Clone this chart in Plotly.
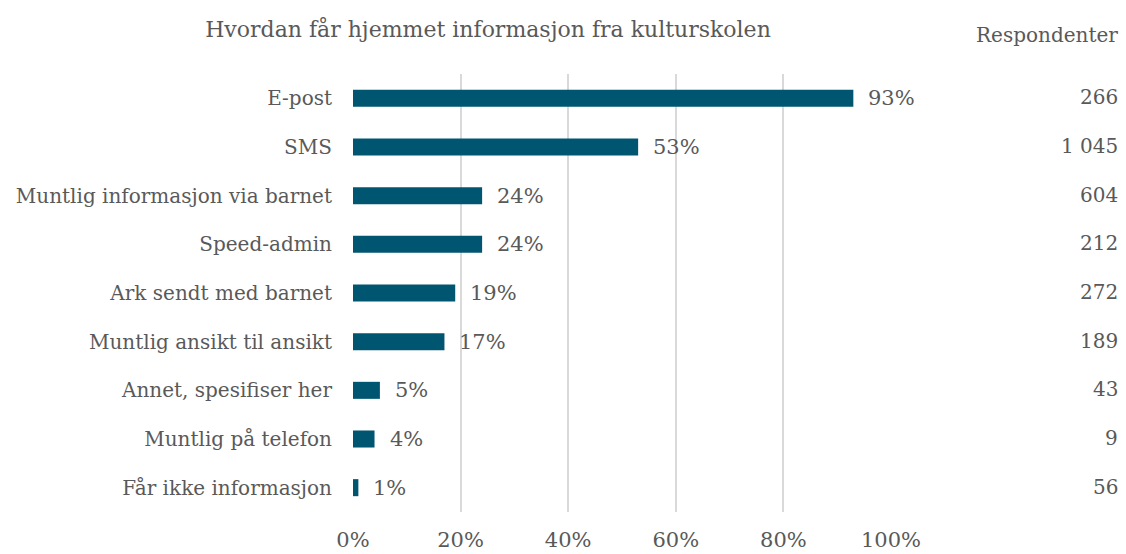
import plotly.graph_objects as go

categories = ["E-post", "SMS", "Muntlig informasjon via barnet", "Speed-admin",
              "Ark sendt med barnet", "Muntlig ansikt til ansikt",
              "Annet, spesifiser her", "Muntlig på telefon", "Får ikke informasjon"]
shares = [93, 53, 24, 24, 19, 17, 5, 4, 1]
respondents = ["266", "1 045", "604", "212", "272", "189", "43", "9", "56"]
x_ticks = [0, 20, 40, 60, 80, 100]
x_ticklabels = ["0%", "20%", "40%", "60%", "80%", "100%"]

FONT = "DejaVu Serif"
GREY = "#595959"
BAR = "#005670"

fig = go.Figure()
fig.add_trace(go.Bar(
    x=shares, y=categories, orientation="h",
    marker=dict(color=BAR, line=dict(width=0)),
    hoverinfo="skip",
))

for c, v in zip(categories, shares):
    fig.add_annotation(x=v, y=c, xref="x", yref="y", text=f"{v}%",
                       showarrow=False, xanchor="left", xshift=13,
                       font=dict(family=FONT, size=21, color=GREY))

for c, r in zip(categories, respondents):
    fig.add_annotation(x=1.0, y=c, xref="paper", yref="y", text=r,
                       showarrow=False, xanchor="right", xshift=229, yshift=1,
                       font=dict(family=FONT, size=20, color=GREY))

fig.add_annotation(x=1.0, y=1.0, xref="paper", yref="paper", text="Respondenter",
                   showarrow=False, xanchor="right", yanchor="bottom",
                   xshift=229, yshift=25,
                   font=dict(family=FONT, size=20, color=GREY))

fig.update_layout(
    width=1126, height=554,
    margin=dict(l=353, r=235, t=74, b=42, autoexpand=False),
    paper_bgcolor="white", plot_bgcolor="white",
    showlegend=False,
    bargap=0.65,
    font=dict(family=FONT, size=20, color=GREY),
    title=dict(text="Hvordan får hjemmet informasjon fra kulturskolen",
               x=488/1126, xanchor="center", xref="container",
               y=1-29/554, yanchor="middle", yref="container",
               font=dict(family=FONT, size=22, color=GREY)),
    xaxis=dict(range=[0, 100], tickvals=x_ticks, ticktext=x_ticklabels,
               showgrid=True, gridcolor="#d9d9d9", gridwidth=1.5,
               zeroline=False, showline=False, ticks="",
               automargin=False, ticklabelstandoff=13,
               tickfont=dict(family=FONT, size=21, color=GREY)),
    yaxis=dict(categoryorder="array", categoryarray=categories[::-1],
               showgrid=False, zeroline=False, showline=False, ticks="",
               automargin=False, ticklabelstandoff=20,
               tickfont=dict(family=FONT, size=20, color=GREY)),
)

fig.write_html("out.html", config={"displayModeBar": False},
               post_script="document.body.style.margin='0';document.body.style.overflow='hidden';")
